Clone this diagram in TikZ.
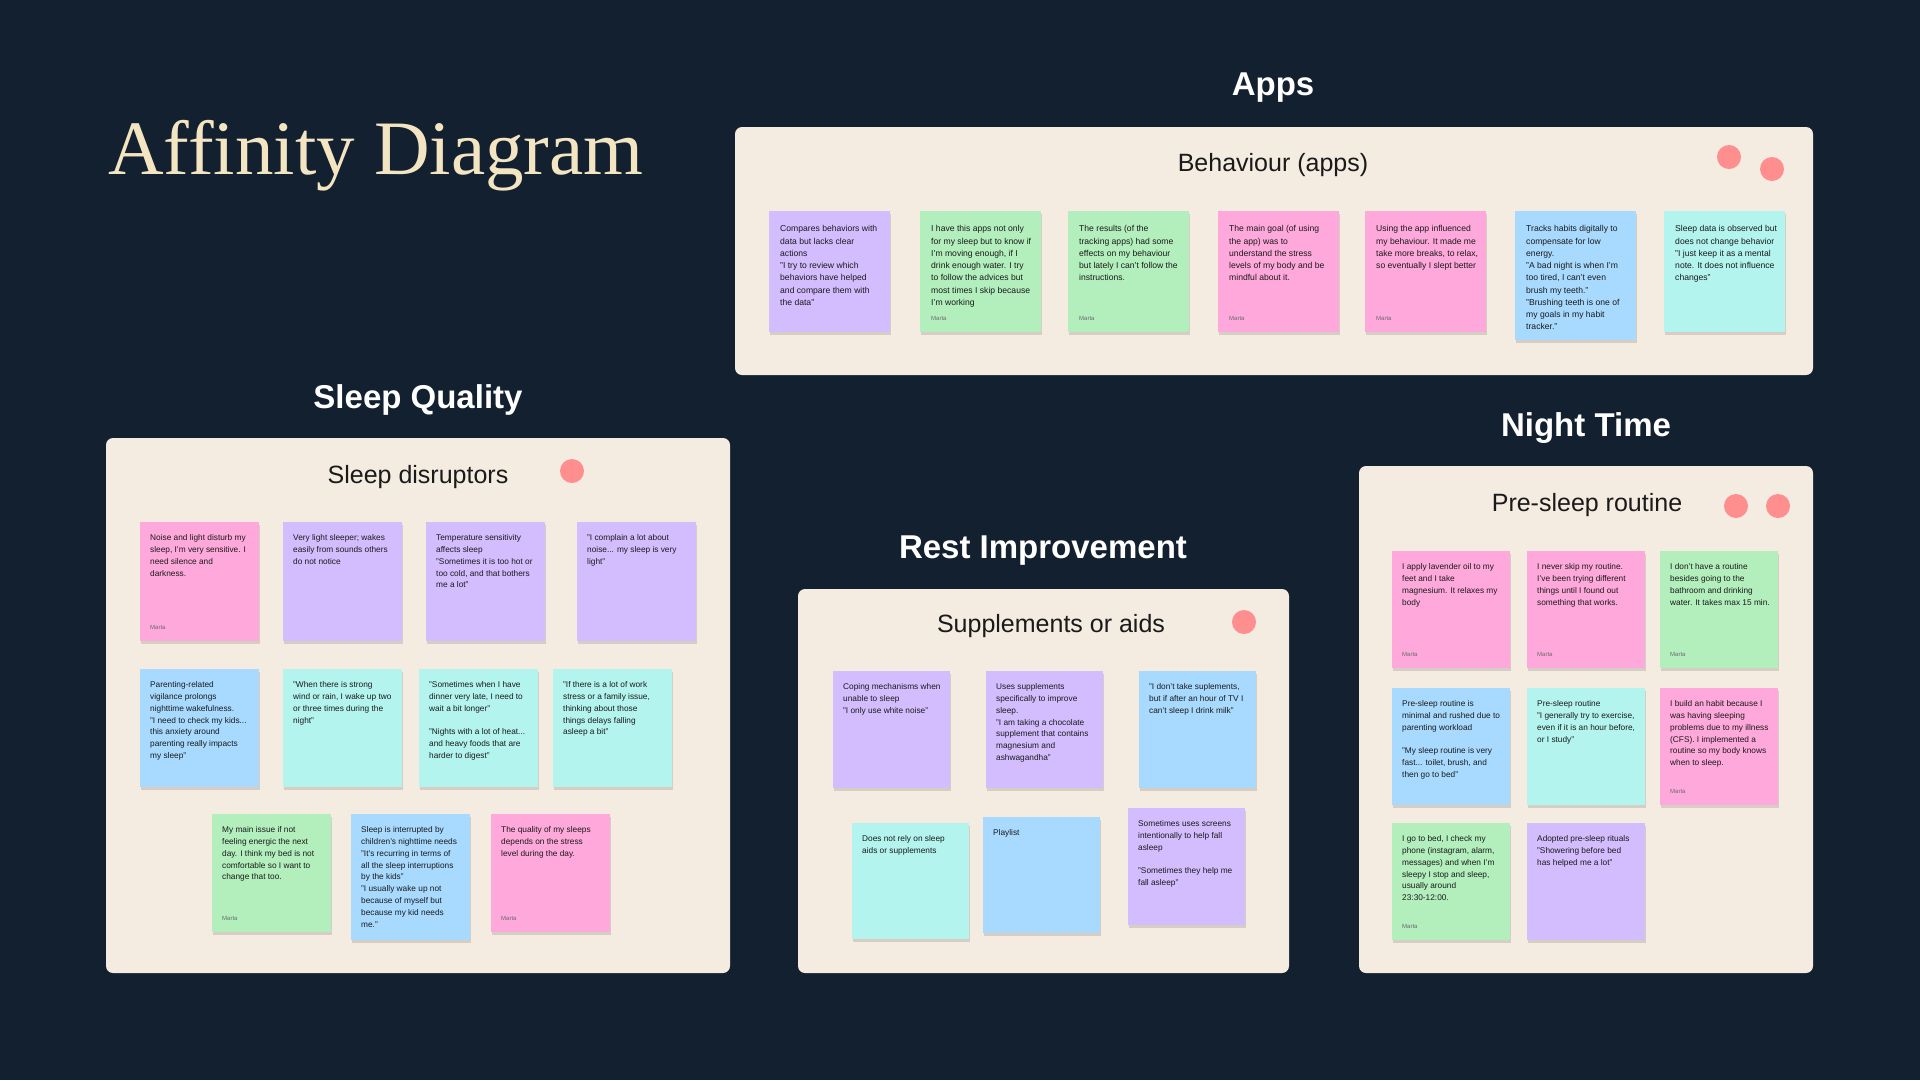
\documentclass[tikz,border=0pt]{standalone}
\usepackage{fontspec}
\setmainfont{Liberation Sans}
\newfontfamily\titlefont{Liberation Serif}
\definecolor{bgc}{HTML}{13202F}
\definecolor{panelc}{HTML}{F4EBE1}
\definecolor{titlec}{HTML}{F3E4C2}
\definecolor{inkc}{HTML}{1A1A1A}
\definecolor{authorc}{HTML}{6A6A6A}
\definecolor{dotc}{HTML}{FF8F8F}
\definecolor{purp}{HTML}{D3BDFF}
\definecolor{grn}{HTML}{B3EFBD}
\definecolor{pnk}{HTML}{FFA8DB}
\definecolor{blu}{HTML}{A8DAFF}
\definecolor{tea}{HTML}{B3F4EF}
\def\tpx{10}
\def\tpy{11.5}
\newcommand{\stk}[7]{%
  \fill[stickyshadow] (#2+0.5,#3+2.5) rectangle ++(#4,#5);
  \node[stickybox, fill=#6, minimum width=#4pt, minimum height=#5pt, anchor=north west] (#1) at (#2,#3) {};
  \node[stickytext, anchor=north west] (#1t) at ([shift={(\tpx pt,-\tpy pt)}]#1.north west) {\rule{0pt}{7pt}#7};
}
\newcommand{\mrt}[1]{\node[author] (#1m) at ([shift={(\tpx pt,12pt)}]#1.south west) {Marta};}
\tikzset{
  panel/.style={fill=panelc, rounded corners=7pt, inner sep=0, outer sep=0, anchor=north west},
  section/.style={font=\fontsize{33}{40}\selectfont\bfseries, text=white, anchor=base, inner sep=0},
  subtitle/.style={font=\fontsize{25}{30}\selectfont, text=inkc, anchor=base, inner sep=0},
  reddot/.style={circle, fill=dotc, minimum size=24pt, inner sep=0},
  stickybox/.style={inner sep=0, outer sep=0, draw=none},
  stickytext/.style={inner sep=0, align=left, text=inkc, font=\fontsize{8.3}{11.8}\selectfont},
  author/.style={inner sep=0, anchor=base west, text=authorc, font=\fontsize{6}{7}\selectfont},
  stickyshadow/.style={fill=black, opacity=0.12}
}
\begin{document}
\begin{tikzpicture}[x=1pt,y=-1pt]
\fill[bgc] (0,0) rectangle (1920,1080);
\useasboundingbox (0,0) rectangle (1920,1080);

\node[anchor=base west, font=\titlefont\fontsize{77}{90}\selectfont, text=titlec, inner sep=0] (title) at (108,174) {Affinity Diagram};

% panels
\node[panel, minimum width=1078pt, minimum height=248pt] (appsp) at (735,127) {};
\node[panel, minimum width=624pt, minimum height=535pt] (sleepp) at (106,438) {};
\node[panel, minimum width=491pt, minimum height=384pt] (restp) at (798,589) {};
\node[panel, minimum width=454pt, minimum height=507pt] (nightp) at (1359,466) {};

% section headings
\node[section] (appsh) at (1273,95) {Apps};
\node[section] (sleeph) at (418,408) {Sleep Quality};
\node[section] (resth) at (1043,558) {Rest Improvement};
\node[section] (nighth) at (1586,436) {Night Time};

% subtitles
\node[subtitle] (appss) at (1273,171) {Behaviour (apps)};
\node[subtitle] (sleeps) at (418,483) {Sleep disruptors};
\node[subtitle] (rests) at (1051,632) {Supplements or aids};
\node[subtitle] (nights) at (1587,511) {Pre-sleep routine};

% dots
\node[reddot] (d1) at (1729,157) {};
\node[reddot] (d2) at (1772,169) {};
\node[reddot] (d3) at (572,471) {};
\node[reddot] (d4) at (1244,622) {};
\node[reddot] (d5) at (1736,506) {};
\node[reddot] (d6) at (1778,506) {};

% Apps stickies
\begin{scope}[stickytext/.append style={font=\fontsize{8.6}{12.25}\selectfont}]
\def\tpx{11}\def\tpy{13.7}
\stk{a1}{769}{211}{121}{121}{purp}{Compares behaviors with\\data but lacks clear\\actions\\"I try to review which\\behaviors have helped\\and compare them with\\the data"}
\stk{a2}{920}{211}{121}{121}{grn}{I have this apps not only\\for my sleep but to know if\\I'm moving enough, if I\\drink enough water. I try\\to follow the advices but\\most times I skip because\\I'm working}
\mrt{a2}
\stk{a3}{1068}{211}{121}{121}{grn}{The results (of the\\tracking apps) had some\\effects on my behaviour\\but lately I can't follow the\\instructions.}
\mrt{a3}
\stk{a4}{1218}{211}{121}{121}{pnk}{The main goal (of using\\the app) was to\\understand the stress\\levels of my body and be\\mindful about it.}
\mrt{a4}
\stk{a5}{1365}{211}{121}{121}{pnk}{Using the app influenced\\my behaviour. It made me\\take more breaks, to relax,\\so eventually I slept better}
\mrt{a5}
\stk{a6}{1515}{211}{121}{129}{blu}{Tracks habits digitally to\\compensate for low\\energy.\\"A bad night is when I'm\\too tired, I can't even\\brush my teeth."\\"Brushing teeth is one of\\my goals in my habit\\tracker."}
\stk{a7}{1664}{211}{121}{121}{tea}{Sleep data is observed but\\does not change behavior\\"I just keep it as a mental\\note. It does not influence\\changes"}
\end{scope}

% Sleep disruptors
\stk{s1}{140}{522}{119}{119}{pnk}{Noise and light disturb my\\sleep, I'm very sensitive. I\\need silence and\\darkness.}
\mrt{s1}
\stk{s2}{283}{522}{119}{119}{purp}{Very light sleeper; wakes\\easily from sounds others\\do not notice}
\stk{s3}{426}{522}{119}{119}{purp}{Temperature sensitivity\\affects sleep\\"Sometimes it is too hot or\\too cold, and that bothers\\me a lot"}
\stk{s4}{577}{522}{119}{119}{purp}{"I complain a lot about\\noise... my sleep is very\\light"}
\stk{s5}{140}{669}{119}{118}{blu}{Parenting-related\\vigilance prolongs\\nighttime wakefulness.\\"I need to check my kids...\\this anxiety around\\parenting really impacts\\my sleep"}
\stk{s6}{283}{669}{119}{118}{tea}{"When there is strong\\wind or rain, I wake up two\\or three times during the\\night"}
\stk{s7}{419}{669}{119}{118}{tea}{"Sometimes when I have\\dinner very late, I need to\\wait a bit longer"\\\mbox{}\\"Nights with a lot of heat...\\and heavy foods that are\\harder to digest"}
\stk{s8}{553}{669}{119}{118}{tea}{"If there is a lot of work\\stress or a family issue,\\thinking about those\\things delays falling\\asleep a bit"}
\stk{s9}{212}{814}{119}{118}{grn}{My main issue if not\\feeling energic the next\\day. I think my bed is not\\comfortable so I want to\\change that too.}
\mrt{s9}
\stk{s10}{351}{814}{119}{126}{blu}{Sleep is interrupted by\\children's nighttime needs\\"It's recurring in terms of\\all the sleep interruptions\\by the kids"\\"I usually wake up not\\because of myself but\\because my kid needs\\me."}
\stk{s11}{491}{814}{119}{118}{pnk}{The quality of my sleeps\\depends on the stress\\level during the day.}
\mrt{s11}

% Supplements or aids
\stk{r1}{833}{671}{117}{117}{purp}{Coping mechanisms when\\unable to sleep\\"I only use white noise"}
\stk{r2}{986}{671}{117}{117}{purp}{Uses supplements\\specifically to improve\\sleep.\\"I am taking a chocolate\\supplement that contains\\magnesium and\\ashwagandha"}
\stk{r3}{1139}{671}{117}{117}{blu}{"I don't take suplements,\\but if after an hour of TV I\\can't sleep I drink milk"}
\stk{r4}{852}{823}{117}{116}{tea}{Does not rely on sleep\\aids or supplements}
\stk{r5}{983}{817}{117}{116}{blu}{Playlist}
\stk{r6}{1128}{808}{117}{117}{purp}{Sometimes uses screens\\intentionally to help fall\\asleep\\\mbox{}\\"Sometimes they help me\\fall asleep"}

% Pre-sleep routine
\stk{n1}{1392}{551}{118}{117}{pnk}{I apply lavender oil to my\\feet and I take\\magnesium. It relaxes my\\body}
\mrt{n1}
\stk{n2}{1527}{551}{118}{117}{pnk}{I never skip my routine.\\I've been trying different\\things until I found out\\something that works.}
\mrt{n2}
\stk{n3}{1660}{551}{118}{117}{grn}{I don't have a routine\\besides going to the\\bathroom and drinking\\water. It takes max 15 min.}
\mrt{n3}
\stk{n4}{1392}{688}{118}{117}{blu}{Pre-sleep routine is\\minimal and rushed due to\\parenting workload\\\mbox{}\\"My sleep routine is very\\fast... toilet, brush, and\\then go to bed"}
\stk{n5}{1527}{688}{118}{117}{tea}{Pre-sleep routine\\"I generally try to exercise,\\even if it is an hour before,\\or I study"}
\stk{n6}{1660}{688}{118}{117}{pnk}{I build an habit because I\\was having sleeping\\problems due to my illness\\(CFS). I implemented a\\routine so my body knows\\when to sleep.}
\mrt{n6}
\stk{n7}{1392}{823}{118}{117}{grn}{I go to bed, I check my\\phone (instagram, alarm,\\messages) and when I'm\\sleepy I stop and sleep,\\usually around\\23:30-12:00.}
\mrt{n7}
\stk{n8}{1527}{823}{118}{117}{purp}{Adopted pre-sleep rituals\\"Showering before bed\\has helped me a lot"}
\end{tikzpicture}
\end{document}
